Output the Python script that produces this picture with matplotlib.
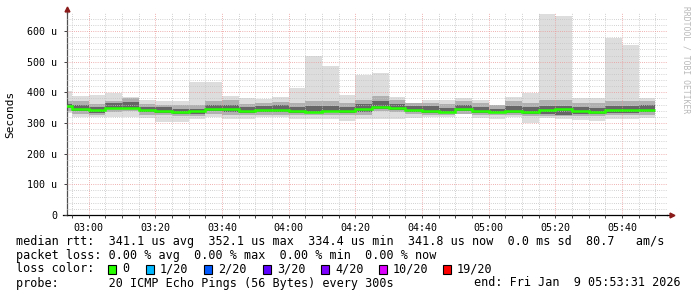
import matplotlib
matplotlib.use("Agg")
import matplotlib.pyplot as plt
import matplotlib.dates as mdates
from matplotlib.patches import Rectangle
import numpy as np
import pandas as pd

# 5-minute steps, values in microseconds
bar_start = pd.date_range("2026-01-09 02:50", periods=36, freq="5min")

ping_max = [404, 388, 391, 399, 384, 375, 371, 371, 434, 434, 389, 381, 379, 384, 415, 520, 487, 390,
            456, 462, 384, 365, 376, 376, 381, 376, 358, 386, 398, 654, 650, 381, 381, 578, 554, 383]
ping_min = [331, 320, 318, 318, 318, 316, 304, 304, 313, 318, 312, 312, 320, 318, 314, 312, 312, 308,
            312, 312, 312, 315, 318, 318, 330, 315, 312, 318, 301, 315, 313, 310, 308, 312, 312, 315]
mid_hi = [371, 371, 362, 373, 381, 362, 360, 358, 360, 371, 376, 362, 365, 368, 365, 371, 371, 365,
          376, 387, 376, 365, 365, 362, 371, 365, 360, 371, 365, 376, 376, 365, 365, 371, 373, 373]
mid_lo = [338, 329, 325, 336, 338, 327, 325, 322, 322, 329, 327, 325, 327, 327, 325, 325, 327, 325,
          327, 338, 336, 329, 327, 325, 329, 325, 325, 327, 322, 322, 322, 322, 322, 325, 325, 327]
core_hi = [362, 360, 351, 365, 368, 351, 351, 347, 347, 358, 360, 351, 354, 358, 351, 354, 354, 351,
           362, 371, 362, 354, 354, 349, 358, 351, 347, 354, 351, 354, 354, 351, 349, 354, 354, 358]
core_lo = [349, 340, 333, 347, 349, 336, 333, 329, 329, 340, 336, 333, 336, 336, 331, 331, 336, 331,
           336, 347, 343, 336, 333, 331, 338, 333, 331, 334, 329, 329, 327, 329, 329, 333, 333, 336]
median = [354, 345, 342, 349, 350, 342, 340, 334.4, 338, 347, 345, 340, 341, 341, 340, 337, 340, 340,
          345, 352.1, 349, 342, 340, 337, 346, 339, 336, 340, 337, 343, 346, 340, 337, 341, 341, 341.8]

y_ticks = [0, 100, 200, 300, 400, 500, 600]
y_tick_labels = ["0", "100 u", "200 u", "300 u", "400 u", "500 u", "600 u"]

loss_labels = ["0", "1/20", "2/20", "3/20", "4/20", "10/20", "19/20"]
loss_colors = ["#26ff00", "#00b8ff", "#0059ff", "#5e00ff", "#7e00ff", "#dd00ff", "#ff0000"]

W, H = 697, 297
mono = "DejaVu Sans Mono"
plt.rcParams["font.family"] = mono

fig = plt.figure(figsize=(W / 100, H / 100), dpi=100)
fig.patch.set_facecolor("white")
ax = fig.add_axes([67 / W, 1 - 215 / H, 600 / W, 202 / H])

x = mdates.date2num(bar_start)
step = 5 / 1440
edges = np.append(x, x[-1] + step)

# smoke: outer to inner
bands = [
    (ping_min, ping_max, "#dddddd"),
    (mid_lo, mid_hi, "#b0b0b0"),
    (core_lo, core_hi, "#666666"),
]
for lo, hi, col in bands:
    lo = np.array(lo)
    hi = np.array(hi)
    ax.bar(x, hi - lo, bottom=lo, width=step, align="edge", color=col, linewidth=0, zorder=1)

ax.stairs(median, edges, color="#26ff00", linewidth=1.8, baseline=None, zorder=3)

ax.set_xlim(mdates.date2num(pd.Timestamp("2026-01-09 02:53:31")),
            mdates.date2num(pd.Timestamp("2026-01-09 05:53:31")))
ax.set_ylim(0, 658.7)

ax.xaxis.set_major_locator(mdates.MinuteLocator(byminute=[0, 20, 40]))
ax.xaxis.set_minor_locator(mdates.MinuteLocator(byminute=range(0, 60, 5)))
ax.xaxis.set_major_formatter(mdates.DateFormatter("%H:%M"))
ax.set_yticks(y_ticks)
ax.set_yticklabels(y_tick_labels)
ax.set_yticks(range(0, 660, 20), minor=True)

ax.set_axisbelow(False)
ax.grid(which="minor", color="#c4c4c4", linestyle=(0, (0.72, 1.44)), linewidth=0.72)
ax.grid(which="major", color="#eb9a9a", linestyle=(0, (0.72, 1.44)), linewidth=0.72)

ax.tick_params(axis="x", which="both", length=2.5, width=0.7, color="#404040",
               labelsize=7.2, pad=3)
ax.tick_params(axis="y", which="major", length=2, width=0.7, color="#404040",
               labelsize=7.2, pad=5)
ax.tick_params(axis="y", which="minor", length=0)

for s in ["top", "right"]:
    ax.spines[s].set_visible(False)
ax.spines["left"].set_color("#505050")
ax.spines["bottom"].set_color("#000000")
ax.spines["left"].set_linewidth(0.9)
ax.spines["bottom"].set_linewidth(0.9)

# axis extensions and arrows
ax.plot([0, 0], [1, 1.02], color="#505050", lw=0.9, transform=ax.transAxes, clip_on=False)
ax.plot([1, 1.008], [0, 0], color="#000000", lw=0.9, transform=ax.transAxes, clip_on=False)
ax.plot([-0.006, 0], [0, 0], color="#000000", lw=0.9, transform=ax.transAxes, clip_on=False)
ax.plot([0], [1.022], marker="^", color="#8b1a1a", ms=3.5, transform=ax.transAxes, clip_on=False)
ax.plot([1.009], [0], marker=">", color="#8b1a1a", ms=3.5, transform=ax.transAxes, clip_on=False)

ax.set_ylabel("Seconds", fontsize=8)
ax.yaxis.set_label_coords(-52 / 600, 0.5)


def ftext(px, py, s, **kw):
    fig.text(px / W, 1 - py / H, s, va="center", fontfamily=mono, **kw)


ftext(686, 60, "RRDTOOL / TOBI OETIKER", rotation=270, ha="center", fontsize=5.8, color="#b8b8b8")

fs = 8.5
ftext(16, 241, "median rtt:  341.1 us avg  352.1 us max  334.4 us min  341.8 us now  0.0 ms sd  80.7   am/s",
      fontsize=fs)
ftext(16, 255, "packet loss: 0.00 % avg  0.00 % max  0.00 % min  0.00 % now", fontsize=fs)
ftext(16, 269, "loss color:", fontsize=fs)
box_x = [108, 146, 204, 263, 321, 379, 443]
for bx, lab, col in zip(box_x, loss_labels, loss_colors):
    fig.add_artist(Rectangle((bx / W, 1 - 274 / H), 8 / W, 9 / H, transform=fig.transFigure,
                             facecolor=col, edgecolor="black", linewidth=0.8))
    ftext(bx + 14, 269, lab, fontsize=fs)
ftext(16, 283, "probe:       20 ICMP Echo Pings (56 Bytes) every 300s", fontsize=fs)
ftext(681, 283, "end: Fri Jan  9 05:53:31 2026", ha="right", fontsize=fs)

fig.savefig("out.png", dpi=100)
